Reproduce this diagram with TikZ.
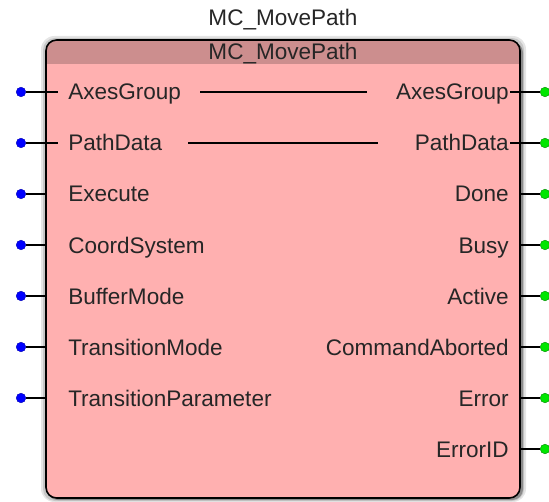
\documentclass[tikz,border=0pt]{standalone}
\usepackage{fontspec}
\setmainfont{Liberation Sans}
\definecolor{bodyc}{RGB}{255,176,176}
\definecolor{headc}{RGB}{204,142,142}
\definecolor{pinblue}{RGB}{0,0,255}
\definecolor{pingreen}{RGB}{0,230,0}
\begin{document}
\begin{tikzpicture}[x=0.75pt,y=-0.75pt,
  lbl/.style={font=\fontsize{16.9pt}{18pt}\selectfont, inner sep=0pt, text=black!85},
  inpin/.style={circle, fill=pinblue, draw=pinblue!70!black, line width=0.3pt, minimum size=7.2pt, inner sep=0pt},
  outpin/.style={circle, fill=pingreen, draw=pingreen!60!black, line width=0.3pt, minimum size=7.2pt, inner sep=0pt},
  wire/.style={draw=black, line width=1pt}]
\useasboundingbox (0,0) rectangle (549,502);
% shadow
\fill[black!10, rounded corners=10] (41,36) rectangle (526,502);
\fill[black!22, rounded corners=9] (43,38) rectangle (524,501);
\fill[black!45, rounded corners=8] (47,42) rectangle (523,500);
% body
\fill[bodyc, rounded corners=8] (46,40) rectangle (520,498);
\begin{scope}
  \clip[rounded corners=8] (46,40) rectangle (520,498);
  \fill[headc] (46,40) rectangle (520,64);
\end{scope}
\draw[line width=1.2pt, rounded corners=8] (46,40) rectangle (520,498);
% titles
\node[lbl, anchor=base] (title) at (283,26) {MC\_MovePath};
\node[lbl, anchor=base] (head) at (283,60) {MC\_MovePath};
% inputs
\foreach \n/\t/\y in {A/AxesGroup/92, B/PathData/143, C/Execute/194, D/CoordSystem/245, E/BufferMode/296, F/TransitionMode/347, G/TransitionParameter/398}{
  \node[lbl, anchor=base west] (in\n) at (68,\y+8) {\t};
  \node[inpin] (p\n) at (21,\y) {};
}
\foreach \n/\y in {C/194, D/245, E/296, F/347, G/398}{
  \coordinate (e\n) at (46,\y);
  \draw[wire] (p\n) -- (e\n);
}
\coordinate (eA) at (58,92);
\coordinate (eB) at (58,143);
\draw[wire] (pA) -- (eA);
\draw[wire] (pB) -- (eB);
% outputs
\foreach \n/\t/\y in {A/AxesGroup/92, B/PathData/143, C/Done/194, D/Busy/245, E/Active/296, F/CommandAborted/347, G/Error/398, H/ErrorID/449}{
  \node[lbl, anchor=base east] (out\n) at (509,\y+8) {\t};
  \node[outpin] (q\n) at (545,\y) {};
}
\foreach \n/\y in {C/194, D/245, E/296, F/347, G/398, H/449}{
  \coordinate (f\n) at (520,\y);
  \draw[wire] (f\n) -- (q\n);
}
\coordinate (fA) at (510,92);
\coordinate (fB) at (510,143);
\draw[wire] (fA) -- (qA);
\draw[wire] (fB) -- (qB);
% pass-through lines
\coordinate (la1) at (200,92);
\coordinate (la2) at (367,92);
\coordinate (lb1) at (188,143);
\coordinate (lb2) at (378,143);
\draw[wire] (la1) -- (la2);
\draw[wire] (lb1) -- (lb2);
\end{tikzpicture}
\end{document}
